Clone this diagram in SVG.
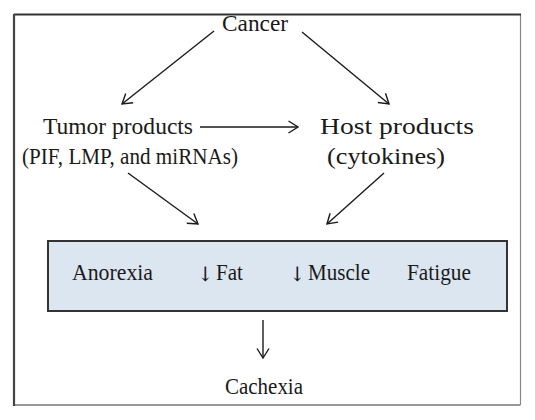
<svg xmlns="http://www.w3.org/2000/svg" width="535" height="420" viewBox="0 0 535 420">
<defs>
<marker id="ah" markerUnits="userSpaceOnUse" markerWidth="14" markerHeight="14" refX="10" refY="6.5" orient="auto" overflow="visible">
<path d="M0.5,0.5 L10,6.5 L0.5,12.5" fill="none" stroke="#1a1a1a" stroke-width="1.4" stroke-linejoin="miter"/>
</marker>
</defs>
<style>
text{font-family:"Liberation Serif","Times New Roman",serif;font-size:22.5px;fill:#1a1a1a}
.ar{font-family:"DejaVu Serif","DejaVu Sans",serif;font-size:20px}
.c{stroke:#1a1a1a;stroke-width:1.4;fill:none;marker-end:url(#ah)}
</style>
<rect width="535" height="420" fill="#fff"/>
<g id="frame">
<line x1="14" y1="405" x2="520.5" y2="405" stroke="#777" stroke-width="1.5"/>
<line x1="520.5" y1="14.5" x2="520.5" y2="405" stroke="#888" stroke-width="1.2"/>
<line x1="14" y1="14.5" x2="521" y2="14.5" stroke="#333" stroke-width="2"/>
<line x1="14" y1="14" x2="14" y2="406" stroke="#444" stroke-width="2.2"/>
</g>
<g id="connectors">
<line class="c" x1="214" y1="31" x2="122" y2="104"/>
<line class="c" x1="302" y1="32" x2="389" y2="104"/>
<line class="c" x1="200" y1="127" x2="298" y2="127"/>
<line class="c" x1="128" y1="173" x2="198" y2="224"/>
<line class="c" x1="384" y1="173" x2="327" y2="224"/>
<line class="c" x1="263" y1="320" x2="263" y2="358"/>
</g>
<g id="cancer"><text x="222" y="31" textLength="66" lengthAdjust="spacingAndGlyphs">Cancer</text></g>
<g id="tumor">
<text x="43" y="134" textLength="150" lengthAdjust="spacingAndGlyphs">Tumor products</text>
<text x="22" y="164" textLength="216" lengthAdjust="spacingAndGlyphs">(PIF, LMP, and miRNAs)</text>
</g>
<g id="host">
<text x="320" y="134" textLength="154" lengthAdjust="spacingAndGlyphs">Host products</text>
<text x="327" y="164" textLength="118" lengthAdjust="spacingAndGlyphs">(cytokines)</text>
</g>
<g id="effects">
<rect x="48" y="241" width="459" height="70" fill="#dce6f1" stroke="#333" stroke-width="2"/>
<text x="72" y="280" textLength="81" lengthAdjust="spacingAndGlyphs">Anorexia</text>
<text x="197" y="281"><tspan class="ar">↓</tspan><tspan x="216" y="280" textLength="27" lengthAdjust="spacingAndGlyphs">Fat</tspan></text>
<text x="289" y="281"><tspan class="ar">↓</tspan><tspan x="308" y="280" textLength="62" lengthAdjust="spacingAndGlyphs">Muscle</tspan></text>
<text x="407" y="280" textLength="64" lengthAdjust="spacingAndGlyphs">Fatigue</text>
</g>
<g id="cachexia"><text x="225" y="394" textLength="78" lengthAdjust="spacingAndGlyphs">Cachexia</text></g>
</svg>
